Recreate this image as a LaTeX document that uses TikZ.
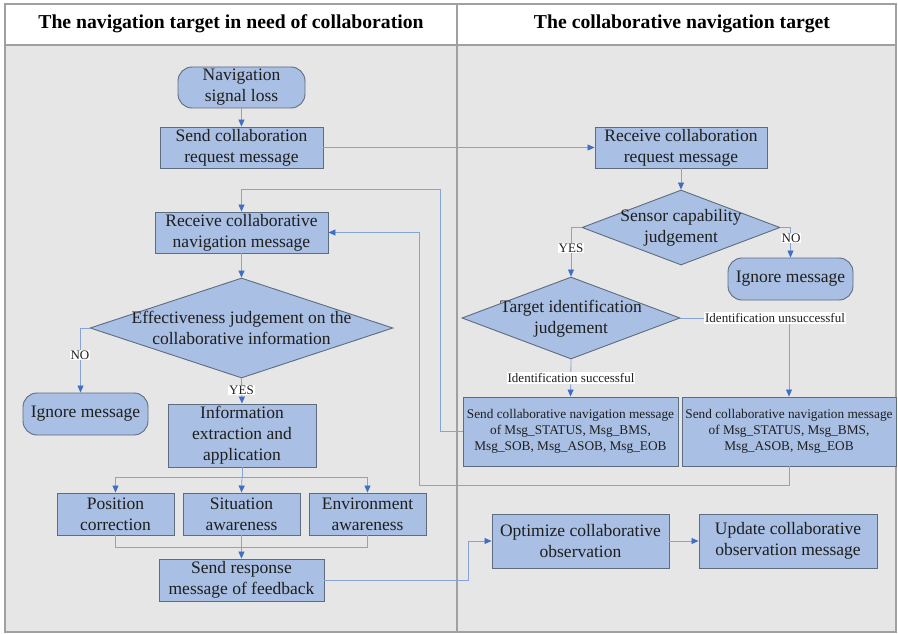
\documentclass[tikz,border=0pt]{standalone}
\usepackage{fontspec}
\setmainfont{Liberation Serif}
\usetikzlibrary{shapes.geometric,arrows.meta,calc}
\definecolor{boxfill}{HTML}{A9BFE3}
\definecolor{boxline}{HTML}{5E6C80}
\definecolor{lineblue}{HTML}{86A3D8}
\definecolor{tipblue}{HTML}{3F6FC4}
\definecolor{panel}{HTML}{E6E6E6}
\definecolor{framegray}{HTML}{A0A0A0}
\newcommand\myBody{\fontsize{17.5}{21}\selectfont}
\newcommand\mySmall{\fontsize{13.3}{16}\selectfont}
\newcommand\myLab{\fontsize{13}{15}\selectfont}
\newcommand\myHead{\fontsize{19.7}{23}\selectfont\bfseries}
\begin{document}
\begin{tikzpicture}[x=1pt,y=-1pt,
  box/.style={draw=boxline, fill=boxfill, line width=0.9pt, inner sep=0pt, align=center, font=\myBody, text=black!88},
  rbox/.style={box, rounded corners=14pt},
  smallbox/.style={box, font=\mySmall},
  dia/.style={diamond, draw=boxline, fill=boxfill, line width=0.9pt, inner sep=0pt},
  diatext/.style={align=center, font=\myBody, text=black!88, inner sep=0pt},
  link/.style={draw=lineblue, line width=0.8pt},
  arr/.style={link, -{Triangle[length=7pt,width=6pt,color=tipblue]}},
  lab/.style={fill=white, inner sep=1pt, font=\myLab, text=black!88},
  head/.style={font=\myHead, text=black}
]
\useasboundingbox (0,0) rectangle (898,634);
% frame
\fill[white] (5,4) rectangle (896,45);
\fill[panel] (5,45) rectangle (896,632);
\draw[framegray, line width=2.5pt] (5,4) rectangle (896,632);
\draw[framegray, line width=2.5pt] (5,45) -- (896,45);
\draw[framegray, line width=2.5pt] (457,4) -- (457,632);
\node[head] (h1) at (231,24) {The navigation target in need of collaboration};
\node[head] (h2) at (682,24) {The collaborative navigation target};

% left column
\node[rbox, minimum width=127pt, minimum height=41pt] (nsl) at (241.5,87.5) {Navigation\\signal loss};
\node[box, minimum width=163pt, minimum height=41pt] (scr) at (241.5,147.5) {Send collaboration\\request message};
\node[box, minimum width=173pt, minimum height=41pt] (rcn) at (241.5,232.5) {Receive collaborative\\navigation message};
\node[dia, minimum width=303pt, minimum height=100pt] (eff) at (241.5,328) {};
\node[diatext] (efft) at (241.5,328) {Effectiveness judgement on the\\collaborative information};
\node[rbox, minimum width=125pt, minimum height=42pt] (ign1) at (85.5,414) {Ignore message};
\node[box, minimum width=148pt, minimum height=63pt] (iea) at (242,435.5) {Information\\extraction and\\application};
\node[box, minimum width=117pt, minimum height=42pt] (pos) at (115.5,514) {Position\\correction};
\node[box, minimum width=117pt, minimum height=42pt] (sit) at (241.5,514) {Situation\\awareness};
\node[box, minimum width=117pt, minimum height=42pt] (env) at (367.5,514) {Environment\\awareness};
\node[box, minimum width=165pt, minimum height=42pt] (srf) at (241.5,580) {Send response\\message of feedback};

% right column
\node[box, minimum width=172pt, minimum height=41pt] (rcr) at (681,147.5) {Receive collaboration\\request message};
\node[dia, minimum width=198pt, minimum height=75pt] (scj) at (681,227.5) {};
\node[diatext] (scjt) at (681,227.5) {Sensor capability\\judgement};
\node[rbox, minimum width=125pt, minimum height=42pt] (ign2) at (790.5,279) {Ignore message};
\node[dia, minimum width=218pt, minimum height=82pt] (tij) at (571,318) {};
\node[diatext] (tijt) at (571,318.5) {Target identification\\judgement};
\node[smallbox, minimum width=215pt, minimum height=69pt] (snd1) at (570.5,431.5) {Send collaborative navigation message\\of Msg\_STATUS, Msg\_BMS,\\Msg\_SOB, Msg\_ASOB, Msg\_EOB};
\node[smallbox, minimum width=214pt, minimum height=69pt] (snd2) at (789,431.5) {Send collaborative navigation message\\of Msg\_STATUS, Msg\_BMS,\\Msg\_ASOB, Msg\_EOB};
\node[box, minimum width=177pt, minimum height=54pt] (opt) at (580.5,541) {Optimize collaborative\\observation};
\node[box, minimum width=178pt, minimum height=54pt] (upd) at (788,541) {Update collaborative\\observation message};

% waypoints
\coordinate (c1) at (440,189);
\coordinate (c2) at (419,485.5);
\coordinate (sp) at (242,477);
\coordinate (mg) at (241.5,547);
\coordinate (c3) at (468,580);

% connectors
\draw[arr] (nsl.south) -- (scr.north);
\draw[arr] (scr.east) -- (rcr.west);
\draw[arr] (rcr.south) -- (scj.north);
\draw[arr] (scj.west) -| (tij.north);
\draw[arr] (scj.east) -| (ign2.north);
\draw[arr] (tij.south) -- (snd1.north);
\draw[arr] (tij.east) -| (snd2.north);
\draw[arr] (snd1.west) -| (c1) -| (rcn.north);
\draw[arr] (snd2.south) |- (c2) |- (rcn.east);
\draw[arr] (rcn.south) -- (eff.north);
\draw[arr] (eff.west) -| ([xshift=-5pt]ign1.north);
\draw[arr] (eff.south) -- (iea.north);
\draw[link] (iea.south) -- (sp);
\draw[arr] (sp) -| (pos.north);
\draw[arr] (sp) -| (env.north);
\draw[arr] (sp) -- (sit.north);
\draw[link] (pos.south) |- (mg);
\draw[link] (env.south) |- (mg);
\draw[arr] (sit.south) -- (srf.north);
\draw[arr] (srf.east) -- (c3) |- (opt.west);
\draw[arr] (opt.east) -- (upd.west);

% labels
\node[lab] (yes1) at (571,248) {YES};
\node[lab] (no1) at (791,238) {NO};
\node[lab] (ids) at (571,378) {Identification successful};
\node[lab] (idu) at (775,318) {Identification unsuccessful};
\node[lab] (no2) at (80,355) {NO};
\node[lab] (yes2) at (241.5,390) {YES};
\end{tikzpicture}
\end{document}
